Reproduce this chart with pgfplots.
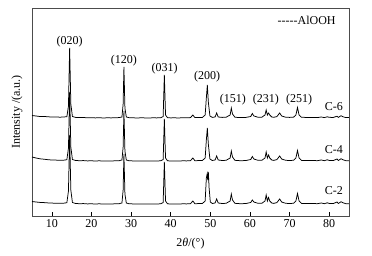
\documentclass[border=0pt]{standalone}
\usepackage{fontspec}
\setmainfont{Liberation Serif}
\usepackage{pgfplots}
\pgfplotsset{compat=1.18}
\usepackage{pgfplotstable}

\pgfplotstableread{
x y
5 100.5
6 100
7 99.5
8 99.6
9 99.2
10 99.0
11 99.1
12 98.8
13 99.0
13.8 99.3
14.2 110
14.5 168
14.8 112
15.2 99.5
16 98.6
17 98.4
18 98.5
19 98.2
20 98.3
21 98.1
22 98.3
23 98.0
24 98.2
25 98.1
26 98.3
27 98.4
27.7 99
28.0 112
28.2 149
28.45 108
28.8 99
29.5 98.3
30.5 98.2
31.5 98.0
32.5 98.2
33.5 98.1
34.5 98.0
35.5 98.2
36.5 98.1
37.5 98.3
38.1 99.5
38.4 141
38.7 101
39.2 98.3
40 98.1
41 98.2
42 98.0
43 98.3
44 98.2
45 98.4
45.6 101
46.1 98.4
47 98.5
48 98.6
48.7 101
49.0 118
49.25 131
49.5 114
49.9 100
50.5 98.6
51.2 99
51.6 103
52.0 99
53 98.6
54 98.8
55.0 101
55.3 108
55.6 102
56.2 98.8
57 98.5
58 98.4
59 98.6
60.2 99.5
60.6 102.5
61.0 100
62 98.8
63 98.8
63.8 101
64.1 106
64.4 101
64.7 103
65.0 101
65.5 99
66 98.7
66.8 99.4
67.5 103
68 100
69 98.8
70 98.6
71 98.8
71.6 101
72.0 108.5
72.4 101
73 98.7
74 98.6
75 98.5
76 98.6
77 98.4
78 99
78.8 98.4
79.5 99.2
80 98.7
81 98.5
82 99.8
82.3 98.6
83 100.3
83.5 99.2
84.2 98.4
85 98.4
}\cSix

\pgfplotstableread{
x y
5 59.0
6 58.0
7 57.2
8 56.8
9 56.3
10 56.0
11 55.9
12 55.7
13 55.8
13.8 56.3
14.2 68
14.5 124
14.8 69
15.2 56.5
16 55.5
17 55.3
18 55.4
19 55.1
20 55.2
21 55.0
22 55.2
23 54.9
24 55.1
25 55.0
26 55.2
27 55.3
27.7 56
28.0 69
28.2 105
28.45 65
28.8 56
29.5 55.2
30.5 55.1
31.5 54.9
32.5 55.1
33.5 55.0
34.5 54.9
35.5 55.1
36.5 55.0
37.5 55.2
38.1 56.5
38.4 97
38.7 58
39.2 55.2
40 55.0
41 55.1
42 54.9
43 55.2
44 55.1
45 55.3
45.6 58
46.1 55.3
47 55.4
48 55.5
48.7 58
49.0 76
49.25 88
49.5 72
49.9 57
50.5 55.5
51.2 56
51.6 60
52.0 56
53 55.5
54 55.7
55.0 58
55.3 65
55.6 59
56.2 55.7
57 55.4
58 55.3
59 55.5
60.2 56.5
60.6 59.5
61.0 57
62 55.7
63 55.7
63.8 58
64.1 64
64.4 58
64.7 61
65.0 58
65.5 56
66 55.6
66.8 56.4
67.5 60
68 57
69 55.7
70 55.5
71 55.7
71.6 58
72.0 65.5
72.4 58
73 55.6
74 55.5
75 55.4
76 55.5
77 55.3
78 56
78.8 55.3
79.5 56.2
80 55.6
81 55.4
82 57
82.3 55.5
83 57.3
83.5 56.2
84.2 55.3
85 55.3
}\cFour

\pgfplotstableread{
x y
5 14.5
6 14.0
7 13.6
8 13.4
9 13.1
10 12.9
11 12.8
12 12.7
13 12.8
13.8 13.3
14.2 25
14.5 81
14.8 26
15.2 13.5
16 12.5
17 12.3
18 12.4
19 12.1
20 12.2
21 12.0
22 12.2
23 11.9
24 12.1
25 12.0
26 12.2
27 12.3
27.7 13
28.0 26
28.2 62
28.45 22
28.8 13
29.5 12.2
30.5 12.1
31.5 11.9
32.5 12.1
33.5 12.0
34.5 11.9
35.5 12.1
36.5 12.0
37.5 12.2
38.1 13.5
38.4 54
38.7 15
39.2 12.2
40 12.0
41 12.1
42 11.9
43 12.2
44 12.1
45 12.3
45.6 15
46.1 12.3
47 12.4
48 12.5
48.7 15
49.0 38
49.2 42
49.35 36
49.5 44
49.7 28
50.0 14
50.5 12.5
51.2 13
51.6 17
52.0 13
53 12.5
54 12.7
55.0 15
55.3 22
55.6 16
56.2 12.7
57 12.4
58 12.3
59 12.5
60.2 13.5
60.6 16
61.0 14
62 12.7
63 12.7
63.8 15
64.1 21
64.4 15
64.7 18.5
65.0 15
65.5 13
66 12.6
66.8 13.4
67.5 17
68 14
69 12.7
70 12.5
71 12.7
71.6 15
72.0 22.5
72.4 15
73 12.6
74 12.5
75 12.4
76 12.5
77 12.3
78 13
78.8 12.3
79.5 13.2
80 12.6
81 12.4
82 14
82.3 12.5
83 14.3
83.5 13.2
84.2 12.3
85 12.3
}\cTwo

\begin{document}
\begin{tikzpicture}
\path[use as bounding box] (-32pt,-40pt) rectangle (340pt,216pt);
\begin{axis}[
  at={(0,0)}, anchor=south west,
  scale only axis, width=317pt, height=208pt,
  xmin=5, xmax=85, ymin=0, ymax=208,
  xtick={10,20,30,40,50,60,70,80},
  ytick=\empty,
  tick pos=bottom,
  tick align=inside,
  major tick length=3.5pt,
  axis line style={black!70, line width=0.6pt},
  tick style={black, line width=0.6pt},
  every tick label/.append style={font=\fontsize{12}{13}\selectfont},
  /pgf/number format/assume math mode=true,
  xlabel={2\textit{θ}/(°)},
  ylabel={Intensity /(a.u.)},
  label style={font=\fontsize{12}{13}\selectfont},
  xlabel style={yshift=-4pt},
  ylabel style={yshift=6pt},
  clip=false,
]
\addplot[black, line width=0.75pt] table[x=x,y=y] {\cTwo};
\addplot[black, line width=0.75pt] table[x=x,y=y] {\cFour};
\addplot[black, line width=0.75pt] table[x=x,y=y] {\cSix};
\begin{scope}[every node/.style={font=\fontsize{12}{13}\selectfont, inner sep=0pt}]
\node at (axis cs:14.5,174) {(020)};
\node at (axis cs:28.2,155) {(120)};
\node at (axis cs:38.5,147) {(031)};
\node at (axis cs:49.2,139) {(200)};
\node at (axis cs:55.7,116) {(151)};
\node at (axis cs:64.0,116) {(231)};
\node at (axis cs:72.4,116) {(251)};
\node at (axis cs:81.2,109) {C-6};
\node at (axis cs:81.2,66) {C-4};
\node at (axis cs:81.2,25) {C-2};
\node at (axis cs:74.3,196) {{-}{-}{-}{-}{-}AlOOH};
\end{scope}
\end{axis}
\end{tikzpicture}
\end{document}
